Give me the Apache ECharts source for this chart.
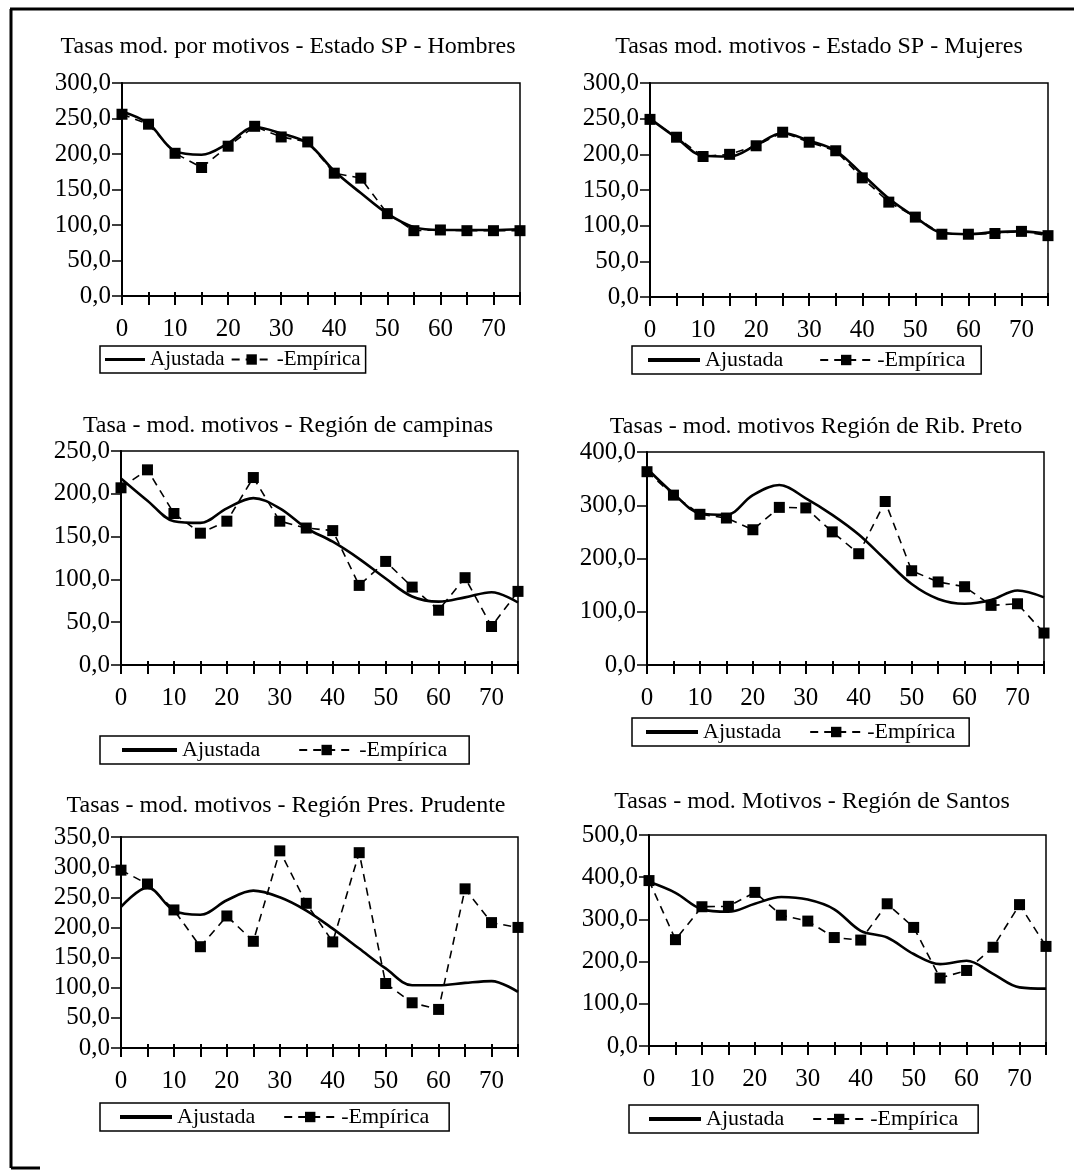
<!DOCTYPE html>
<html><head><meta charset="utf-8">
<script src="https://cdn.jsdelivr.net/npm/echarts@6/dist/echarts.min.js"></script>
<style>html,body{margin:0;padding:0;background:#fff}#c{width:1074px;height:1171px}</style>
</head><body><div id="c"></div>
<script>
// ---- data ----
const ages = [0,5,10,15,20,25,30,35,40,45,50,55,60,65,70,75];
const xTickLabels = [0,10,20,30,40,50,60,70];
const titles = [
  'Tasas mod. por motivos - Estado SP - Hombres',
  'Tasas mod. motivos - Estado SP - Mujeres',
  'Tasa - mod. motivos - Región de campinas',
  'Tasas - mod. motivos Región de Rib. Preto',
  'Tasas - mod. motivos - Región Pres. Prudente',
  'Tasas - mod. Motivos - Región de Santos'
];
const seriesNames = ['Ajustada', 'Empírica'];
const yMax  = [300, 300, 250, 400, 350, 500];
const yStep = [50, 50, 50, 100, 50, 100];

const hombresAjustada   = [260,243,204,199,215,238,229,215,176,145,116,97,93,93,93,94];
const hombresEmpirica   = [256,242,201,181,211,239,224,217,173,166,116,92,93,92,92,92];
const mujeresAjustada   = [250,223,198,197,213,230,219,205,172,138,112,90,88,91,92,88];
const mujeresEmpirica   = [249,224,197,200,212,231,217,205,167,133,112,88,88,89,92,86];
const campinasAjustada  = [218,192,168,166,183,195,183,160,144,124,101,80,74,79,85,73];
const campinasEmpirica  = [207,228,177,154,168,219,168,160,157,93,121,91,64,102,45,86];
const ribPretoAjustada  = [369,322,285,282,319,338,313,282,245,198,152,124,115,122,140,127];
const ribPretoEmpirica  = [363,319,283,276,254,296,295,250,209,307,177,156,147,112,115,60];
const prudenteAjustada  = [234,266,228,221,245,261,250,228,198,165,132,104,104,108,111,93];
const prudenteEmpirica  = [295,272,229,168,219,177,327,240,176,324,107,75,64,264,208,200];
const santosAjustada    = [389,363,324,318,337,353,347,324,273,257,218,194,202,171,139,136];
const santosEmpirica    = [392,252,330,331,364,310,296,257,251,337,281,161,179,234,335,236];

const ajustadaSets = [hombresAjustada, mujeresAjustada, campinasAjustada, ribPretoAjustada, prudenteAjustada, santosAjustada];
const empiricaSets = [hombresEmpirica, mujeresEmpirica, campinasEmpirica, ribPretoEmpirica, prudenteEmpirica, santosEmpirica];

// ---- layout ----
const FONT = "'Liberation Serif','Times New Roman',serif";
const layout = [
  {g:{left:122,top:83,width:398,height:213},  t:[288,47],  lg:{left:100,top:346,iw:40,gap:6,pad:5,fs:21}},
  {g:{left:650,top:83,width:398,height:214},  t:[819,47],  lg:{left:632,top:346,iw:52,gap:36,pad:16,fs:22}},
  {g:{left:121,top:451,width:397,height:214}, t:[288,426], lg:{left:100,top:736,iw:55,gap:38,pad:22,fs:22}},
  {g:{left:647,top:452,width:397,height:213}, t:[816,427], lg:{left:632,top:718,iw:52,gap:28,pad:14,fs:22}},
  {g:{left:121,top:837,width:397,height:211}, t:[286,806], lg:{left:100,top:1103,iw:52,gap:28,pad:20,fs:22}},
  {g:{left:649,top:835,width:397,height:211}, t:[812,802], lg:{left:629,top:1105,iw:52,gap:28,pad:20,fs:22}}
];

const grid = [], xAxis = [], yAxis = [], series = [], legend = [], graphic = [];
layout.forEach((L, i) => {
  grid.push(Object.assign({show:true, borderColor:'#000', borderWidth:1.5, backgroundColor:'transparent', containLabel:false, outerBoundsMode:'none'}, L.g));
  xAxis.push({
    type:'value', gridIndex:i, min:0, max:75, interval:5, position:'bottom',
    axisLine:{show:true, onZero:false, lineStyle:{color:'#000', width:2}},
    axisTick:{show:true, length:9, lineStyle:{color:'#000', width:2}},
    axisLabel:{color:'#000', fontFamily:FONT, fontSize:25, margin:21,
      formatter: v => xTickLabels.indexOf(v) >= 0 ? String(v) : ''},
    splitLine:{show:false}
  });
  xAxis.push({
    type:'value', gridIndex:i, min:0, max:75, interval:5, position:'top', offset:-L.g.height,
    axisLine:{show:false},
    axisTick:{show:true, length:4, lineStyle:{color:'#000', width:2}},
    axisLabel:{show:false}, splitLine:{show:false}
  });
  yAxis.push({
    type:'value', gridIndex:i, min:0, max:yMax[i], interval:yStep[i],
    axisLine:{show:true, onZero:false, lineStyle:{color:'#000', width:2}},
    axisTick:{show:true, length:10, lineStyle:{color:'#000', width:1.5}},
    axisLabel:{color:'#000', fontFamily:FONT, fontSize:25, margin:11,
      formatter: v => v.toFixed(1).replace('.', ',')},
    splitLine:{show:false}
  });
  series.push({
    name:seriesNames[0], type:'line', xAxisIndex:2*i, yAxisIndex:i,
    data: ages.map((a, k) => [a, ajustadaSets[i][k]]),
    smooth:0.35, symbol:'none', silent:true,
    lineStyle:{color:'#000', width:2.6}, itemStyle:{color:'#000'}
  });
  series.push({
    name:seriesNames[1], type:'line', xAxisIndex:2*i, yAxisIndex:i,
    data: ages.map((a, k) => [a, empiricaSets[i][k]]),
    symbol:'rect', symbolSize:11, silent:true,
    lineStyle:{color:'#000', width:1.6, type:[8,6]}, itemStyle:{color:'#000'}
  });
  legend.push({
    data:[{name:seriesNames[0], icon:'path://M0,0L40,0L40,3L0,3Z'}, {name:seriesNames[1]}],
    left:L.lg.left, top:L.lg.top, orient:'horizontal',
    itemWidth:L.lg.iw, itemHeight:13, itemGap:L.lg.gap, padding:[3, L.lg.pad],
    borderColor:'#000', borderWidth:1.5, selectedMode:false,
    formatter: n => n === seriesNames[1] ? '-' + n : n,
    textStyle:{color:'#000', fontFamily:FONT, fontSize:L.lg.fs}
  });
  graphic.push({type:'text', x:L.t[0], y:L.t[1],
    style:{text:titles[i], fill:'#000', font:'24px ' + FONT, textAlign:'center', textVerticalAlign:'middle'}});
});
// outer frame
graphic.push({type:'line', shape:{x1:10, y1:9, x2:1074, y2:9}, style:{stroke:'#000', lineWidth:3}});
graphic.push({type:'line', shape:{x1:11, y1:9, x2:11, y2:1168}, style:{stroke:'#000', lineWidth:3}});
graphic.push({type:'line', shape:{x1:11, y1:1168, x2:40, y2:1168}, style:{stroke:'#000', lineWidth:3}});

const chart = echarts.init(document.getElementById('c'), null, {renderer:'canvas'});
chart.setOption({animation:false, backgroundColor:'#fff', grid, xAxis, yAxis, series, legend, graphic});
</script></body></html>
